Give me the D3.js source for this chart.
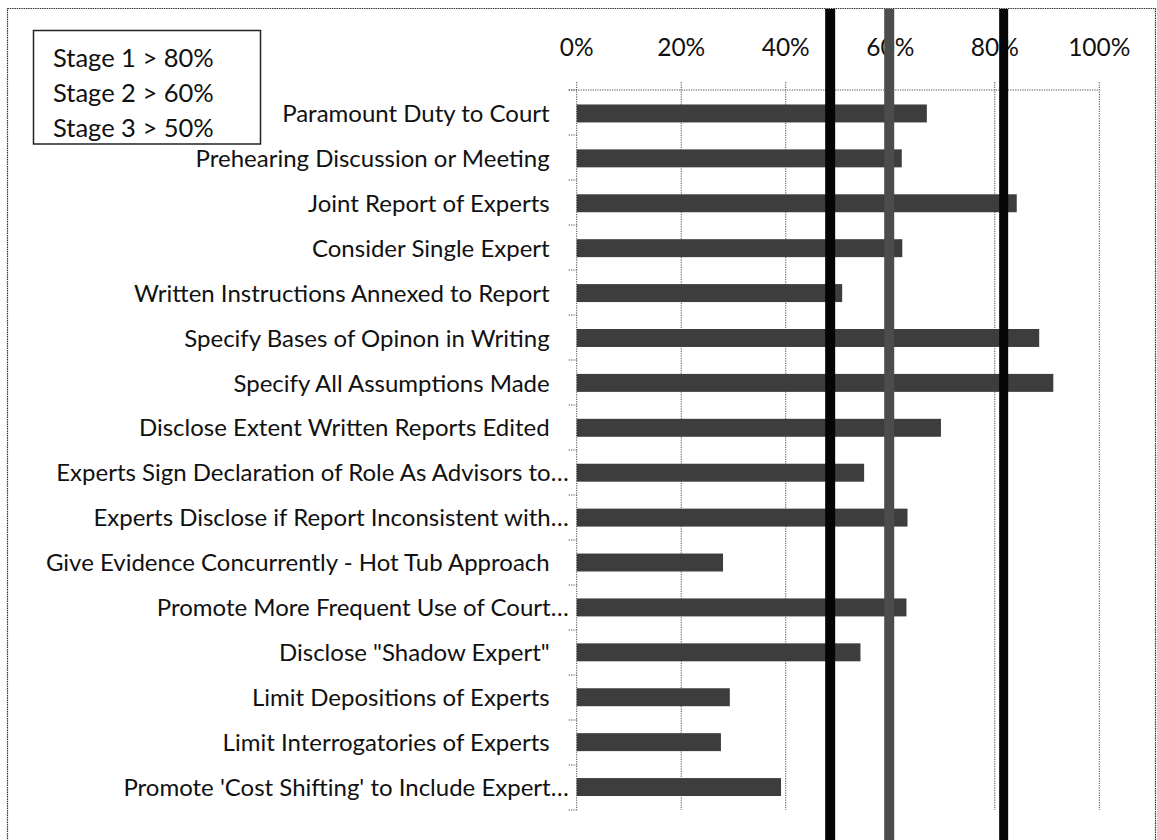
<!DOCTYPE html>
<html>
<head>
<meta charset="utf-8">
<script src="https://cdn.jsdelivr.net/npm/d3@7"></script>
<style>
  html, body { margin: 0; padding: 0; background: #fff; }
  svg { display: block; }
  text { font-family: Lato, "Open Sans", sans-serif; fill: #111; }
</style>
</head>
<body>
<svg id="chart" width="1157" height="840"></svg>
<script>
const categories = [
  "Paramount Duty to Court",
  "Prehearing Discussion or Meeting",
  "Joint Report of Experts",
  "Consider Single Expert",
  "Written Instructions Annexed to Report",
  "Specify Bases of Opinon in Writing",
  "Specify All Assumptions Made",
  "Disclose Extent Written Reports Edited",
  "Experts Sign Declaration of Role As Advisors to\u2026",
  "Experts Disclose if Report Inconsistent with\u2026",
  "Give Evidence Concurrently - Hot Tub Approach",
  "Promote More Frequent Use of Court\u2026",
  "Disclose \"Shadow Expert\"",
  "Limit Depositions of Experts",
  "Limit Interrogatories of Experts",
  "Promote 'Cost Shifting' to Include Expert\u2026"
];
const values = [67.0, 62.2, 84.2, 62.3, 50.8, 88.5, 91.2, 69.7, 55.0, 63.3, 28.0, 63.1, 54.3, 29.3, 27.6, 39.1];
const thresholds = [48.5, 59.8, 81.7];
const tickValues = [0, 20, 40, 60, 80, 100];
const legendLines = ["Stage 1 > 80%", "Stage 2 > 60%", "Stage 3 > 50%"];

const svg = d3.select("#chart");
const W = 1157, H = 840;

const x = d3.scaleLinear().domain([0, 100]).range([576.7, 1099.3]);
const y = d3.scaleBand().domain(categories).range([91, 809.5]).paddingInner(0.6).paddingOuter(0.3);
const plotTop = 90, plotBottom = 810;

const gridColor = "#4a4a4a";
const dash = "1.2,1.2";

// outer border
svg.append("rect")
  .attr("x", 7.5).attr("y", 8.5).attr("width", 1148).attr("height", 860)
  .attr("fill", "none").attr("stroke", "#333").attr("stroke-width", 1.2)
  .attr("stroke-dasharray", "1.5,0.8");

// legend box
const lg = svg.append("g");
lg.append("rect")
  .attr("x", 33.5).attr("y", 30.5).attr("width", 227).attr("height", 113.5)
  .attr("fill", "#fff").attr("stroke", "#222").attr("stroke-width", 1.5);
lg.selectAll("text.leg").data(legendLines).enter().append("text")
  .attr("class", "leg")
  .attr("x", 53)
  .attr("y", (d, i) => 67 + i * 35)
  .style("font-size", "25.5px")
  .text(d => d);

// vertical gridlines (extend 8px above plot top)
svg.append("g").selectAll("line").data(tickValues).enter().append("line")
  .attr("x1", d => x(d)).attr("x2", d => x(d))
  .attr("y1", plotTop - 8).attr("y2", plotBottom)
  .attr("stroke", gridColor).attr("stroke-width", 1).attr("stroke-dasharray", dash);

// top border of plot
svg.append("line")
  .attr("x1", x(0) - 8).attr("x2", x(100))
  .attr("y1", plotTop).attr("y2", plotTop)
  .attr("stroke", gridColor).attr("stroke-width", 1).attr("stroke-dasharray", dash);

// top axis labels
svg.append("g").selectAll("text").data(tickValues).enter().append("text")
  .attr("x", d => x(d)).attr("y", 56)
  .attr("text-anchor", "middle")
  .style("font-size", "24.5px")
  .text(d => d + "%");

// left axis ticks at band boundaries
const boundaries = d3.range(categories.length + 1).map(i => plotTop + i * (plotBottom - plotTop) / categories.length);
svg.append("g").selectAll("line").data(boundaries).enter().append("line")
  .attr("x1", x(0) - 8).attr("x2", x(0))
  .attr("y1", d => d).attr("y2", d => d)
  .attr("stroke", gridColor).attr("stroke-width", 1).attr("stroke-dasharray", dash);

// bars
svg.append("g").selectAll("rect").data(categories).enter().append("rect")
  .attr("x", x(0))
  .attr("y", d => y(d))
  .attr("width", (d, i) => x(values[i]) - x(0))
  .attr("height", y.bandwidth())
  .attr("fill", "#3d3d3d");

// category labels
svg.append("g").selectAll("text").data(categories).enter().append("text")
  .attr("x", d => d.endsWith("\u2026") ? x(0) - 8 : x(0) - 27)
  .attr("y", d => y(d) + y.bandwidth() / 2)
  .attr("dy", "0.36em")
  .attr("text-anchor", "end")
  .style("font-size", "24px")
  .text(d => d);

// threshold lines
const thrColors = ["#050505", "#4c4c4c", "#050505"];
const thrWidths = [10, 10, 9];
svg.append("g").selectAll("line").data(thresholds).enter().append("line")
  .attr("x1", d => x(d)).attr("x2", d => x(d))
  .attr("y1", 9).attr("y2", H)
  .attr("stroke", (d, i) => thrColors[i])
  .attr("stroke-width", (d, i) => thrWidths[i]);
</script>
</body>
</html>
